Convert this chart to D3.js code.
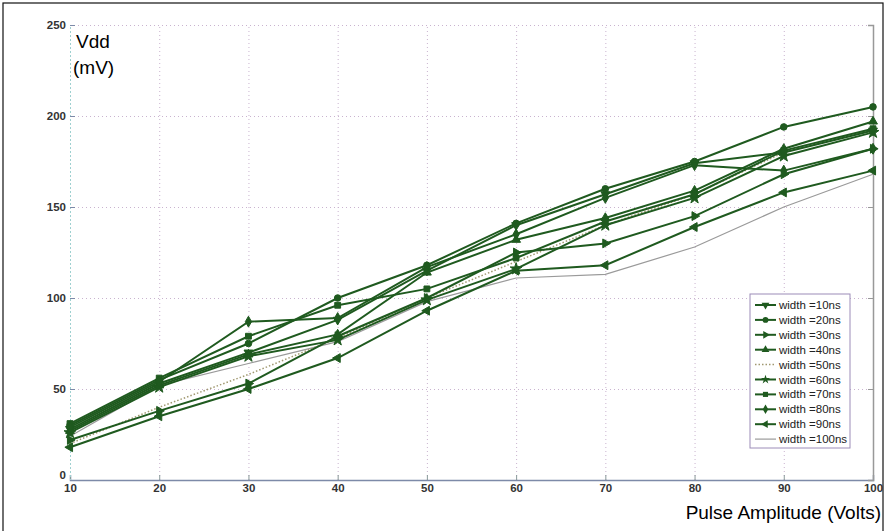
<!DOCTYPE html>
<html>
<head>
<meta charset="utf-8">
<script src="https://cdn.jsdelivr.net/npm/d3@7/dist/d3.min.js"></script>
<style>
  body { margin: 0; background: #fff; }
  svg { display: block; font-family: "Liberation Sans", Arial, sans-serif; }
  .tick text { fill: #333; font-weight: bold; font-size: 11.5px; }
</style>
</head>
<body>
<div id="chart"></div>
<script>
const width = 886;
const height = 531;

// pulse amplitude (Volts)
const amplitude = [10, 20, 30, 40, 50, 60, 70, 80, 90, 100];

// Vdd (mV) for each pulse width
const w10ns  = [28, 53, 70, 88, 115, 140, 157, 174, 180, 192];
const w20ns  = [30, 55, 75, 100, 118, 141, 160, 175, 194, 205];
const w30ns  = [22, 38, 53, 79, 100, 125, 130, 145, 168, 182];
const w40ns  = [27, 52, 69, 80, 114, 132, 144, 159, 182, 197];
const w50ns  = [20, 40, 58, 78, 100, 120, 140, 157, 180, 193];
const w60ns  = [26, 51, 68, 77, 99, 116, 140, 155, 178, 191];
const w70ns  = [31, 56, 79, 96, 105, 122, 142, 157, 181, 193];
const w80ns  = [29, 54, 87, 89, 117, 135, 155, 173, 170, 182];
const w90ns  = [18, 35, 50, 67, 93, 115, 118, 139, 158, 170];
const w100ns = [24, 52, 64, 76, 98, 111, 113, 128, 150, 168];

const seriesNames = ["width =10ns", "width =20ns", "width =30ns", "width =40ns", "width =50ns",
  "width =60ns", "width =70ns", "width =80ns", "width =90ns", "width =100ns"];
const seriesValues = [w10ns, w20ns, w30ns, w40ns, w50ns, w60ns, w70ns, w80ns, w90ns, w100ns];
// marker per series: [symbol, rotation]
const markers = [
  [d3.symbolTriangle, 180], [d3.symbolCircle, 0], [d3.symbolTriangle, 90], [d3.symbolTriangle, 0], null,
  [d3.symbolStar, 0], [d3.symbolSquare, 0], [d3.symbolDiamond, 0], [d3.symbolTriangle, -90], null
];

const xTicks = [10, 20, 30, 40, 50, 60, 70, 80, 90, 100];
const yTicks = [0, 50, 100, 150, 200, 250];

const green = "#1f5a1f";

const svg = d3.select("#chart").append("svg")
  .attr("width", width)
  .attr("height", height);

// outer frame
svg.append("rect")
  .attr("x", 3).attr("y", 3)
  .attr("width", 880).attr("height", 540)
  .attr("fill", "none").attr("stroke", "#111").attr("stroke-width", 1.2);

const x = d3.scaleLinear().domain([10, 100]).range([70, 873]);
const y = d3.scaleLinear().domain([0, 250]).range([480, 25]);

// grid
svg.append("g")
  .attr("transform", "translate(0,480)")
  .call(d3.axisBottom(x).tickValues(xTicks).tickSize(-455).tickFormat(""))
  .call(g => g.select(".domain").remove())
  .call(g => g.selectAll("line").attr("stroke", "#c9b3cf").attr("stroke-dasharray", "1,3"));

svg.append("g")
  .attr("transform", "translate(70,0)")
  .call(d3.axisLeft(y).tickValues(yTicks).tickSize(-803).tickFormat(""))
  .call(g => g.select(".domain").remove())
  .call(g => g.selectAll("line").attr("stroke", "#c9b3cf").attr("stroke-dasharray", "1,3"));

// axes
svg.append("g")
  .attr("transform", "translate(0,480)")
  .call(d3.axisBottom(x).tickValues(xTicks).tickSize(-5).tickPadding(4).tickFormat(d3.format("d")))
  .call(g => g.select(".domain").attr("stroke", "#7d8aa8").attr("stroke-width", 1.5))
  .call(g => g.selectAll("line").attr("stroke", "#8a9a9a"));

svg.append("g")
  .attr("transform", "translate(70,0)")
  .call(d3.axisLeft(y).tickValues(yTicks).tickSize(-5).tickPadding(4).tickFormat(d3.format("d")))
  .call(g => g.select(".domain").attr("stroke", "#9fd0d0").attr("stroke-dasharray", "2,2"))
  .call(g => g.selectAll("line").attr("stroke", "#7d8aa8"))
  .call(g => g.selectAll("text").filter(d => d === 0).attr("dy", "-0.1em"));

svg.append("g")
  .attr("transform", "translate(873,0)")
  .call(d3.axisRight(y).tickValues(yTicks).tickSize(-5).tickFormat(""))
  .call(g => g.select(".domain").attr("stroke", "#999").attr("stroke-width", 1.5))
  .call(g => g.selectAll("line").attr("stroke", "#999"));

// axis titles
svg.append("text").attr("x", 76).attr("y", 48)
  .style("font-family", "Arial, 'Liberation Sans', sans-serif").style("font-size", "19px").text("Vdd");
svg.append("text").attr("x", 73).attr("y", 74)
  .style("font-family", "Arial, 'Liberation Sans', sans-serif").style("font-size", "19px").text("(mV)");
svg.append("text").attr("x", 881).attr("y", 519)
  .attr("text-anchor", "end")
  .style("font-family", "Arial, 'Liberation Sans', sans-serif").style("font-size", "19px")
  .text("Pulse Amplitude (Volts)");

const line = d3.line()
  .x((d, i) => x(amplitude[i]))
  .y(d => y(d));

const lineStyle = i => {
  if (i === 4) return { stroke: "#a09870", width: 1.5, dash: "1.5,2" };
  if (i === 9) return { stroke: "#9a9a9a", width: 1.2, dash: null };
  return { stroke: green, width: 2, dash: null };
};

// draw light lines first, then green ones
const order = [9, 4, 0, 1, 2, 3, 5, 6, 7, 8];
order.forEach(i => {
  const st = lineStyle(i);
  svg.append("path")
    .datum(seriesValues[i])
    .attr("d", line)
    .attr("fill", "none")
    .attr("stroke", st.stroke)
    .attr("stroke-width", st.width)
    .attr("stroke-dasharray", st.dash);
  if (markers[i]) {
    const sym = d3.symbol().type(markers[i][0]).size(markers[i][0] === d3.symbolStar ? 44 : 34);
    svg.append("g").selectAll("path")
      .data(seriesValues[i])
      .join("path")
      .attr("d", sym)
      .attr("transform", (d, k) => "translate(" + x(amplitude[k]) + "," + y(d) + ") rotate(" + markers[i][1] + ")")
      .attr("fill", green)
      .attr("stroke", green);
  }
});

// legend
const legend = svg.append("g").attr("transform", "translate(750,294)");
legend.append("rect")
  .attr("width", 100).attr("height", 154)
  .attr("fill", "#fff")
  .attr("stroke", "#9c8cb8").attr("stroke-width", 1);

const rows = legend.selectAll("g.row")
  .data(seriesNames)
  .join("g")
  .attr("class", "row")
  .attr("transform", (d, i) => "translate(0," + (11 + i * 14.9) + ")");

rows.append("line")
  .attr("x1", 5).attr("x2", 26)
  .attr("stroke", (d, i) => lineStyle(i).stroke)
  .attr("stroke-width", (d, i) => lineStyle(i).width)
  .attr("stroke-dasharray", (d, i) => lineStyle(i).dash);

rows.filter((d, i) => markers[i] !== null)
  .append("path")
  .attr("d", (d) => {
    const i = seriesNames.indexOf(d);
    return d3.symbol().type(markers[i][0]).size(26)();
  })
  .attr("transform", d => "translate(15.5,0) rotate(" + markers[seriesNames.indexOf(d)][1] + ")")
  .attr("fill", green);

rows.append("text")
  .attr("x", 29).attr("y", 4)
  .style("font-size", "11.5px")
  .style("fill", "#222")
  .text(d => d);
</script>
</body>
</html>
